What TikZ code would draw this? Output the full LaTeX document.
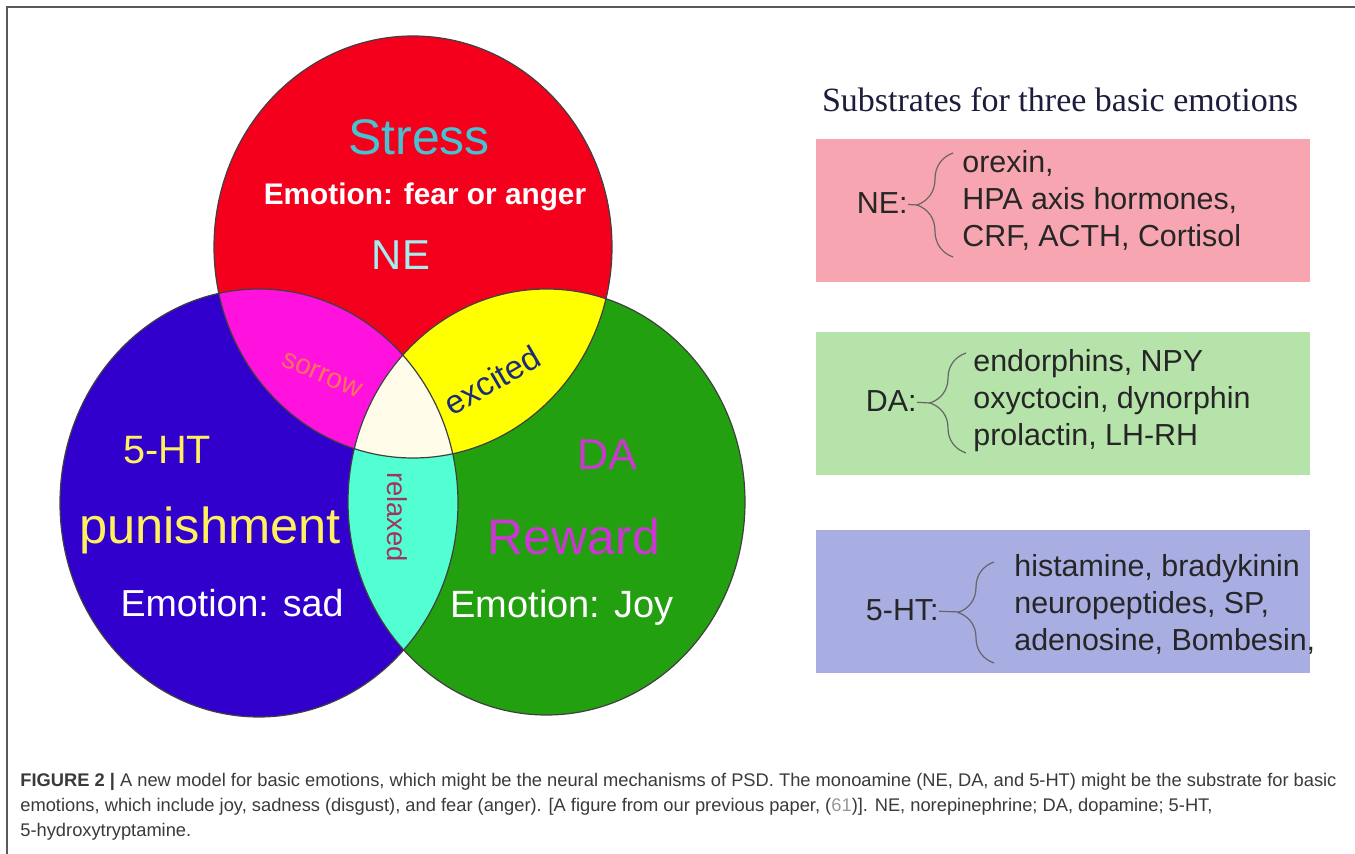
\documentclass[tikz,border=0pt]{standalone}
\usepackage{fontspec}
\setmainfont{Liberation Sans}
\newfontfamily\titlefont{Liberation Serif}
\usetikzlibrary{decorations.pathreplacing}
\definecolor{nered}{HTML}{F4001C}
\definecolor{htblue}{HTML}{3200CC}
\definecolor{dagreen}{HTML}{22A00F}
\definecolor{sorrowfill}{HTML}{FF12DE}
\definecolor{excitedfill}{HTML}{FFFF00}
\definecolor{relaxedfill}{HTML}{52FFD2}
\definecolor{corefill}{HTML}{FFFDE9}
\definecolor{stresstxt}{HTML}{46C3D3}
\definecolor{netxt}{HTML}{A5EEF0}
\definecolor{sorrowtxt}{HTML}{FF735A}
\definecolor{excitedtxt}{HTML}{1B2C7E}
\definecolor{relaxedtxt}{HTML}{A3325E}
\definecolor{htyellow}{HTML}{FFF15E}
\definecolor{damagenta}{HTML}{CC36D3}
\definecolor{nebg}{HTML}{F7A6B1}
\definecolor{dabg}{HTML}{B6E3AA}
\definecolor{htbg}{HTML}{A8ADE2}
\definecolor{titlenavy}{HTML}{1C1D3C}
\definecolor{captxt}{HTML}{3A3A3A}
\tikzset{
    every node/.style={align=center, inner sep=0pt,},
    rim/.style={draw=black!75, line width=0.6pt,},
    subbox/.style={rectangle, minimum width=247pt, minimum height=71.5pt,},
    sublbl/.style={anchor=east, text=black!85, font=\fontsize{15.2}{18}\selectfont,},
    sublist/.style={anchor=west, align=left, text=black!85, font=\fontsize{15.2}{18.5}\selectfont,},
    subbrace/.style={decorate, decoration={brace, amplitude=18pt}, draw=black!60, line width=0.6pt,},
    subtick/.style={draw=black!60, line width=0.6pt,},
}

\begin{document}
\begin{tikzpicture}[x=0.5pt, y=-0.5pt]
    \useasboundingbox[fill=white] (0,0) rectangle (1355,854);
    \draw[black!65, line width=0.8pt] (7,854) -- (7,7) -- (1355,7);

    % three circles
    \fill[nered] (413,247) ellipse [x radius=199, y radius=211];
    \fill[htblue] (259,503) ellipse [x radius=199, y radius=214];
    \fill[dagreen] (546.5,502) ellipse [x radius=198.5, y radius=213];
    \begin{scope}
        \clip (413,247) ellipse [x radius=199, y radius=211];
        \fill[sorrowfill] (259,503) ellipse [x radius=199, y radius=214];
        \fill[excitedfill] (546.5,502) ellipse [x radius=198.5, y radius=213];
    \end{scope}
    \begin{scope}
        \clip (259,503) ellipse [x radius=199, y radius=214];
        \fill[relaxedfill] (546.5,502) ellipse [x radius=198.5, y radius=213];
        \clip (413,247) ellipse [x radius=199, y radius=211];
        \fill[corefill] (546.5,502) ellipse [x radius=198.5, y radius=213];
    \end{scope}
    \draw[rim] (413,247) ellipse [x radius=199, y radius=211];
    \draw[rim] (259,503) ellipse [x radius=199, y radius=214];
    \draw[rim] (546.5,502) ellipse [x radius=198.5, y radius=213];

    \node[text=stresstxt, font=\fontsize{25}{25}\selectfont] (stress) at (419,137) {Stress};
    \node[text=white, font=\bfseries\fontsize{14.9}{15}\selectfont] (fear) at (425,197) {Emotion: fear or anger};
    \node[text=netxt, font=\fontsize{20.9}{21}\selectfont] (ne) at (401,255) {NE};
    \node[text=sorrowtxt, rotate=-23, font=\fontsize{14}{14}\selectfont] (sorrow) at (322,375) {sorrow};
    \node[text=excitedtxt, rotate=30, font=\fontsize{16.5}{16.5}\selectfont] (excited) at (492,380) {excited};
    \node[text=relaxedtxt, rotate=-90, font=\fontsize{13.7}{14}\selectfont] (relaxed) at (397,517) {relaxed};
    \node[text=htyellow, font=\fontsize{19.8}{20}\selectfont] (ht) at (167,450) {5-HT};
    \node[text=htyellow, font=\fontsize{25.3}{26}\selectfont] (punish) at (210,530) {punishment};
    \node[text=white, font=\fontsize{18.8}{19}\selectfont] (sad) at (232,603) {Emotion: sad};
    \node[text=damagenta, font=\fontsize{21.6}{22}\selectfont] (da) at (607,455) {DA};
    \node[text=damagenta, font=\fontsize{25}{25}\selectfont] (reward) at (574,537) {Reward};
    \node[text=white, font=\fontsize{19}{19}\selectfont] (joy) at (562,608) {Emotion: Joy};

    % substrates
    \node[text=titlenavy, font=\titlefont\fontsize{17}{17}\selectfont] (title) at (1060,100) {Substrates for three basic emotions};
    \node[subbox, fill=nebg] (nebox) at (1063,210.5) {};
    \node[subbox, fill=dabg] (dabox) at (1063,404) {};
    \node[subbox, fill=htbg] (htbox) at (1063,601.5) {};

    \node[sublbl] (nelbl) at (908,203) {NE:};
    \node[sublist] (nelist) at (962,200) {orexin,\\HPA axis hormones,\\CRF, ACTH, Cortisol};
    \coordinate (netop) at (953,153);
    \coordinate (nebot) at (953,257);
    \coordinate (netip) at (917,205);
    \draw[subbrace] (nebot) -- (netop);
    \draw[subtick] (nelbl) -- (netip);

    \node[sublbl] (dalbl) at (917,401) {DA:};
    \node[sublist] (dalist) at (973,401) {endorphins, NPY\\oxyctocin, dynorphin\\prolactin, LH-RH};
    \coordinate (datop) at (966,353);
    \coordinate (dabot) at (966,453);
    \coordinate (datip) at (930,403);
    \draw[subbrace] (dabot) -- (datop);
    \draw[subtick] (dalbl) -- (datip);

    \node[sublbl] (htlbl) at (939,610) {5-HT:};
    \node[sublist] (htlist) at (1014,604) {histamine, bradykinin\\neuropeptides, SP,\\adenosine, Bombesin,};
    \coordinate (httop) at (994,562);
    \coordinate (htbot) at (994,663);
    \coordinate (httip) at (960,612);
    \draw[subbrace] (htbot) -- (httop);
    \draw[subtick] (htlbl) -- (httip);

    \node[anchor=north west, align=left, text=captxt, font=\fontsize{9.15}{12.5}\selectfont] (caption) at (20,773)
        {\textbf{FIGURE 2 |} A new model for basic emotions, which might be the neural mechanisms of PSD. The monoamine (NE, DA, and 5-HT) might be the substrate for basic\\
         emotions, which include joy, sadness (disgust), and fear (anger). [A figure from our previous paper, (\textcolor{black!40}{61})]. NE, norepinephrine; DA, dopamine; 5-HT,\\
         5-hydroxytryptamine.};
\end{tikzpicture}
\end{document}
